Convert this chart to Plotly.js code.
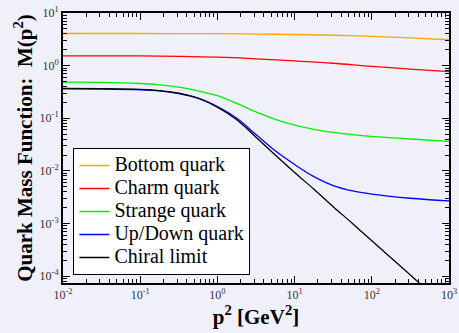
<!DOCTYPE html>
<html>
<head>
<meta charset="utf-8">
<script src="https://cdn.plot.ly/plotly-3.0.1.min.js"></script>
<style>html,body{margin:0;padding:0;background:#f0f0fa;}</style>
</head>
<body>
<div id="chart" style="width:459px;height:333px;"></div>
<script>
// Data (p^2 in GeV^2, M(p^2) in GeV)
const seriesNames = ['Bottom quark', 'Charm quark', 'Strange quark', 'Up/Down quark', 'Chiral limit'];
const seriesColors = ['#ffa500', '#ff0000', '#00ee00', '#0000ff', '#000000'];

const bottomP2 = [0.01, 0.1, 1, 3.16, 10, 31.6, 100, 316, 1000];
const bottomM  = [4.08, 4.08, 4.04, 3.98, 3.90, 3.78, 3.61, 3.37, 3.10];

const charmP2 = [0.01, 0.0316, 0.1, 0.316, 1, 3.16, 10, 31.6, 100, 316, 1000];
const charmM  = [1.538, 1.535, 1.528, 1.500, 1.449, 1.349, 1.230, 1.109, 0.966, 0.861, 0.771];

const gridP2 = [0.01, 0.0316, 0.1, 0.178, 0.316, 0.562, 1, 1.78, 3.16, 5.62, 10, 17.8, 31.6, 56.2, 100, 316, 1000];

const strangeP2 = gridP2;
const strangeM  = [0.485, 0.481, 0.457, 0.432, 0.389, 0.331, 0.269, 0.191, 0.132, 0.0955, 0.0741, 0.0617, 0.0537, 0.0490, 0.0452, 0.0403, 0.0365];

const udP2 = gridP2;
const udM  = [0.361, 0.359, 0.347, 0.331, 0.295, 0.240, 0.166, 0.100, 0.049, 0.024, 0.0132, 0.00776, 0.00525, 0.00417, 0.00363, 0.00302, 0.00269];

const chiralP2 = gridP2;
const chiralM  = [0.370, 0.367, 0.355, 0.335, 0.299, 0.240, 0.162, 0.0933, 0.0437, 0.0200, 0.00933, 0.00447, 0.00209, 0.00100, 0.000468, 0.000105, 0.0000224];

const xTickVals = [0.01, 0.1, 1, 10, 100, 1000];
const xTickText = ['10<sup>-2</sup>', '10<sup>-1</sup>', '10<sup>0</sup>', '10<sup>1</sup>', '10<sup>2</sup>', '10<sup>3</sup>'];
const yTickVals = [0.0001, 0.001, 0.01, 0.1, 1, 10];
const yTickText = ['10<sup>-4</sup>', '10<sup>-3</sup>', '10<sup>-2</sup>', '10<sup>-1</sup>', '10<sup>0</sup>', '10<sup>1</sup>'];

function minorVals(lo, hi) {
  const out = [];
  for (let e = lo; e < hi; e++) {
    for (let k = 2; k <= 9; k++) out.push(k * Math.pow(10, e));
  }
  return out;
}

const xs = [bottomP2, charmP2, strangeP2, udP2, chiralP2];
const ys = [bottomM, charmM, strangeM, udM, chiralM];

const traces = seriesNames.map((n, i) => ({
  type: 'scatter', mode: 'lines',
  name: '<span style="font-size:20px">' + n + '</span>',
  x: xs[i], y: ys[i],
  line: {color: seriesColors[i], width: 1.3, shape: 'spline', smoothing: 1}
}));

const FONT = 'Liberation Serif';
const bg = '#f0f0fa';

const layout = {
  width: 459, height: 333,
  margin: {l: 63, r: 10, t: 13, b: 50},
  paper_bgcolor: bg, plot_bgcolor: bg,
  showlegend: true,
  font: {family: FONT, size: 12, color: '#000'},
  xaxis: {
    type: 'log', range: [-2, 3],
    showline: true, linecolor: '#000', linewidth: 2, mirror: 'ticks',
    ticks: 'inside', ticklen: 7, tickwidth: 1, tickcolor: '#000',
    showgrid: false, zeroline: false,
    tickmode: 'array', tickvals: xTickVals, ticktext: xTickText,
    tickfont: {family: FONT, size: 12, color: '#333'},
    minor: {tickmode: 'array', tickvals: minorVals(-2, 3), ticks: 'inside', ticklen: 4, tickcolor: '#000', showgrid: false},
    title: {text: '<b>p<sup>2</sup> [GeV<sup>2</sup>]</b>', font: {family: FONT, size: 21, color: '#000'}, standoff: 4}
  },
  yaxis: {
    type: 'log', range: [-4.131, 1],
    showline: true, linecolor: '#000', linewidth: 2, mirror: 'ticks',
    ticks: 'inside', ticklen: 7, tickwidth: 1, tickcolor: '#000',
    showgrid: false, zeroline: false,
    tickmode: 'array', tickvals: yTickVals, ticktext: yTickText,
    tickfont: {family: FONT, size: 12, color: '#333'},
    minor: {tickmode: 'array', tickvals: minorVals(-5, 1), ticks: 'inside', ticklen: 4, tickcolor: '#000', showgrid: false},
    title: {text: '<b>Quark Mass Function:  M(p<sup>2</sup>)</b>', font: {family: FONT, size: 21, color: '#000'}, standoff: 1}
  },
  legend: {
    x: 0.027, y: 0.5, xanchor: 'left', yanchor: 'top',
    bgcolor: '#ffffff', bordercolor: '#000', borderwidth: 1,
    font: {family: FONT, size: 15.3846, color: '#000'},
    itemwidth: 30, tracegroupgap: 0
  }
};

Plotly.newPlot('chart', traces, layout, {displayModeBar: false, staticPlot: true});
</script>
</body>
</html>
